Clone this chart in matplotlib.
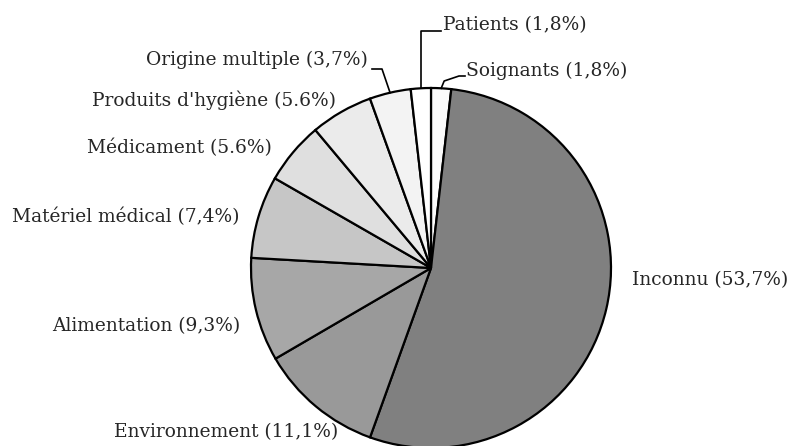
import matplotlib
matplotlib.use("Agg")
import matplotlib.pyplot as plt
import numpy as np

labels = ["Soignants (1,8%)", "Inconnu (53,7%)", "Environnement (11,1%)",
          "Alimentation (9,3%)", "Matériel médical (7,4%)", "Médicament (5.6%)",
          "Produits d'hygiène (5.6%)", "Origine multiple (3,7%)", "Patients (1,8%)"]
values = [1.8, 53.7, 11.1, 9.3, 7.4, 5.6, 5.6, 3.7, 1.8]
colors = ["#fbfbfb", "#808080", "#999999", "#a7a7a7", "#c6c6c6",
          "#dfdfdf", "#ebebeb", "#f3f3f3", "#ffffff"]

W, H = 794, 446
fig = plt.figure(figsize=(W / 100, H / 100), dpi=100)
ax = fig.add_axes([0, 0, 1, 1])

cx, cy, R = 431, H - 268, 180
wedges, _ = ax.pie(values, colors=colors, startangle=90, counterclock=False,
                   center=(cx, cy), radius=R, frame=True,
                   wedgeprops=dict(edgecolor="black", linewidth=1.6))
ax.set_xlim(0, W)
ax.set_ylim(0, H)
ax.set_aspect("equal")
ax.axis("off")

font = dict(family="DejaVu Serif", fontsize=13.4, color="#262626")

# label anchor positions (pixels from top-left) and alignment
label_pos = {
    "Soignants (1,8%)": (466, 71, "left"),
    "Inconnu (53,7%)": (632, 280, "left"),
    "Environnement (11,1%)": (338, 432, "right"),
    "Alimentation (9,3%)": (240, 326, "right"),
    "Matériel médical (7,4%)": (240, 217, "right"),
    "Médicament (5.6%)": (272, 148, "right"),
    "Produits d'hygiène (5.6%)": (336, 100, "right"),
    "Origine multiple (3,7%)": (368, 60, "right"),
    "Patients (1,8%)": (443, 25, "left"),
}

for lab in labels:
    x, y, ha = label_pos[lab]
    ax.text(x, H - y, lab, ha=ha, va="center", **font)

def arc_point(w, frac=0.5):
    a = np.deg2rad(w.theta1 + (w.theta2 - w.theta1) * frac)
    return cx + R * np.cos(a), cy + R * np.sin(a)

# Patients leader: vertical then horizontal
wp = wedges[labels.index("Patients (1,8%)")]
px, py = arc_point(wp)
ax.plot([px, px, 441], [py, H - 31, H - 31], color="black", lw=1.2)

# Soignants leader
ws = wedges[labels.index("Soignants (1,8%)")]
sx, sy = arc_point(ws)
ax.plot([sx, sx + 3, 459, 465], [sy, H - 81, H - 76, H - 76], color="black", lw=1.2)

# Origine multiple leader
wo = wedges[labels.index("Origine multiple (3,7%)")]
ox, oy = arc_point(wo)
ax.plot([ox, 382, 372], [oy, H - 69, H - 69], color="black", lw=1.2)

fig.savefig("out.png", dpi=100)
